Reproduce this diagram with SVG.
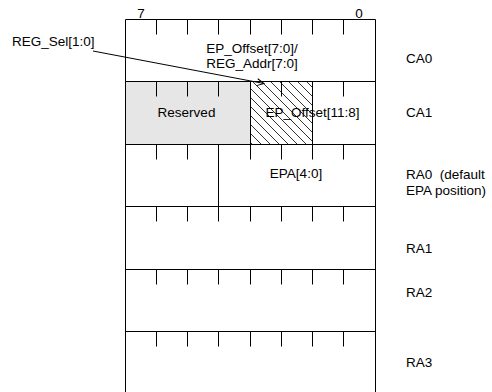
<svg xmlns="http://www.w3.org/2000/svg" width="492" height="392" viewBox="0 0 492 392">
<style>
text{font-family:"Liberation Sans",Arial,sans-serif;font-size:13.5px;fill:#000;white-space:pre}
.c{text-anchor:middle}
.ln{stroke:#000;stroke-width:1;fill:none}
.tk{stroke:#000;stroke-width:1}
</style>
<defs>
<pattern id="hatch" patternUnits="userSpaceOnUse" width="9" height="9">
<path d="M-1,-1 L10,10 M-1,8 L1,10 M8,-1 L10,1" stroke="#000" stroke-width="0.8"/>
</pattern>
<g id="ticks">
<path class="tk" d="M156.5,0v15M187.5,0v15M218.5,0v15M250.5,0v15M281.5,0v15M312.5,0v15M343.5,0v15"/>
</g>
<marker id="arr" markerWidth="10" markerHeight="10" refX="8" refY="5" orient="auto" markerUnits="userSpaceOnUse">
<path d="M1,1.5 L8,5 L1,8.5" fill="none" stroke="#000" stroke-width="1"/>
</marker>
</defs>
<rect width="492" height="392" fill="#fff"/>
<g id="bits">
<text class="c" x="141" y="17.5">7</text>
<text class="c" x="359" y="17.5">0</text>
</g>
<g id="CA0">
<use href="#ticks" y="19.5"/>
<text class="c" x="252" y="53">EP_Offset[7:0]/</text>
<text class="c" x="252" y="68">REG_Addr[7:0]</text>
<text x="406" y="63">CA0</text>
</g>
<g id="CA1">
<rect x="125.5" y="81.5" width="125" height="63" fill="#e6e6e6"/>
<rect x="250.5" y="81.5" width="62" height="63" fill="url(#hatch)"/>
<use href="#ticks" y="81.5"/>
<path class="ln" d="M250.5,81.5V144.5M312.5,81.5V144.5"/>
<text class="c" x="186.5" y="117">Reserved</text>
<text class="c" x="312.5" y="117">EP_Offset[11:8]</text>
<text x="406" y="117">CA1</text>
</g>
<g id="RA0">
<use href="#ticks" y="144.5"/>
<path class="ln" d="M218.5,144.5V206.5"/>
<text class="c" x="296" y="178">EPA[4:0]</text>
<text x="406" y="178.5">RA0  (default</text>
<text x="406" y="195">EPA position)</text>
</g>
<g id="RA1">
<use href="#ticks" y="206.5"/>
<text x="406" y="253">RA1</text>
</g>
<g id="RA2">
<use href="#ticks" y="269.5"/>
<text x="406" y="297">RA2</text>
</g>
<g id="RA3">
<use href="#ticks" y="331.5"/>
<text x="406" y="367">RA3</text>
</g>
<g id="frame">
<path class="ln" d="M125.5,392V19.5H375.5V392M125.5,81.5H375.5M125.5,144.5H375.5M125.5,206.5H375.5M125.5,269.5H375.5M125.5,331.5H375.5"/>
</g>
<g id="connectors">
<text x="12" y="46">REG_Sel[1:0]</text>
<path class="ln" d="M93,51 L264,83.5" marker-end="url(#arr)"/>
</g>
</svg>
